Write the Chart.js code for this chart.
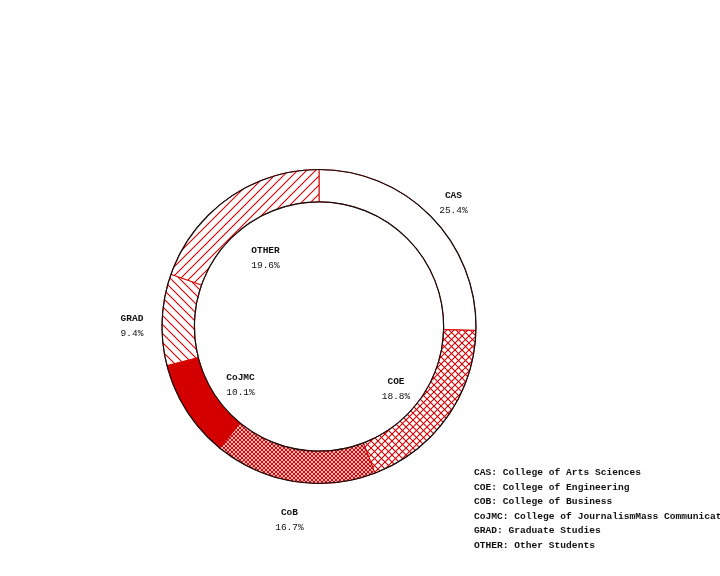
<!DOCTYPE html>
<html><head><meta charset="utf-8">
<script src="https://cdn.jsdelivr.net/npm/chart.js@4"></script>
<style>html,body{margin:0;padding:0;background:#fff;}#wrap{width:720px;height:576px;position:relative;}</style>
</head><body><div id="wrap"><canvas id="c" width="720" height="576"></canvas></div>
<script>
const categories = ['CAS','COE','CoB','CoJMC','GRAD','OTHER'];
const shares = [25.4, 18.8, 16.7, 10.1, 9.4, 19.6];
const legendLines = [
  'CAS: College of Arts Sciences',
  'COE: College of Engineering',
  'COB: College of Business',
  'CoJMC: College of JournalismMass Communications',
  'GRAD: Graduate Studies',
  'OTHER: Other Students'
];

const RED = '#d40000';
function makePattern(kind){
  const s = kind==='dense' ? 4 : (kind==='cross' ? 7 : 9);
  const c = document.createElement('canvas');
  c.width = s; c.height = s;
  const g = c.getContext('2d');
  g.fillStyle = '#fff'; g.fillRect(0,0,s,s);
  g.strokeStyle = RED; g.lineWidth = 1.1;
  function fwd(){ g.beginPath(); g.moveTo(-1,s+1); g.lineTo(s+1,-1); g.moveTo(-1,1); g.lineTo(1,-1); g.moveTo(s-1,s+1); g.lineTo(s+1,s-1); g.stroke(); }
  function back(){ g.beginPath(); g.moveTo(-1,-1); g.lineTo(s+1,s+1); g.moveTo(s-1,-1); g.lineTo(s+1,1); g.moveTo(-1,s-1); g.lineTo(1,s+1); g.stroke(); }
  if (kind==='fwd') fwd();
  if (kind==='back') back();
  if (kind==='cross' || kind==='dense'){ fwd(); back(); }
  const ctx = document.getElementById('c').getContext('2d');
  return ctx.createPattern(c,'repeat');
}

const fills = ['#ffffff', makePattern('cross'), makePattern('dense'), RED, makePattern('back'), makePattern('fwd')];
const labelRadius = [182.6, 99.2, 195.7, 97.9, 187, 86.9];
const labelAngleShift = [1.7, 3.8, -0.5, -4.1, -2.3, -2.7];

const ringPlugin = {
  id:'ring',
  afterDatasetsDraw(chart){
    const meta = chart.getDatasetMeta(0);
    const arc0 = meta.data[0];
    const ctx = chart.ctx;
    const cx = arc0.x, cy = arc0.y;
    ctx.save();
    ctx.strokeStyle = '#111'; ctx.lineWidth = 1.2;
    ctx.beginPath(); ctx.arc(cx, cy, arc0.outerRadius, 0, Math.PI*2); ctx.stroke();
    ctx.beginPath(); ctx.arc(cx, cy, arc0.innerRadius, 0, Math.PI*2); ctx.stroke();
    const total = shares.reduce((a,b)=>a+b,0);
    ctx.fillStyle = '#111';
    ctx.textAlign = 'center'; ctx.textBaseline = 'middle';
    meta.data.forEach((arc,i)=>{
      const mid = (arc.startAngle + arc.endAngle)/2 + labelAngleShift[i]*Math.PI/180;
      const r = labelRadius[i];
      const x = cx + Math.cos(mid)*r, y = cy + Math.sin(mid)*r;
      ctx.font = 'bold 9.5px "Liberation Mono", monospace';
      ctx.fillText(categories[i], x, y-7.5);
      ctx.font = '9.5px "Liberation Mono", monospace';
      ctx.fillText((shares[i]/total*100).toFixed(1)+'%', x, y+7.5);
    });
    ctx.textAlign = 'left';
    ctx.font = 'bold 9.6px "Liberation Mono", monospace';
    legendLines.forEach((t,i)=>{ ctx.fillText(t, 474, 472.5 + i*14.6); });
    ctx.restore();
  }
};

new Chart(document.getElementById('c'), {
  type:'doughnut',
  data:{ labels: categories, datasets:[{ data: shares, backgroundColor: fills, borderColor: RED, borderWidth: 1, borderAlign:'center' }] },
  options:{
    responsive:false, animation:false, cutout:'79.4%',
    layout:{ padding:{ left:161, right:243, top:169, bottom:92 } },
    plugins:{ legend:{display:false}, tooltip:{enabled:false} }
  },
  plugins:[ringPlugin]
});
</script></body></html>
